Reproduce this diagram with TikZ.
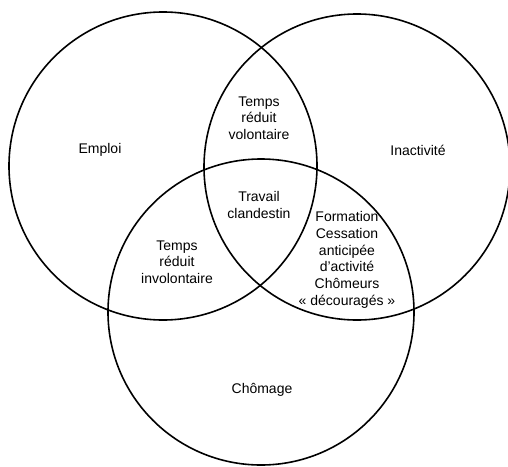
\documentclass[tikz,border=0pt]{standalone}
\usepackage{fontspec}
\setmainfont{Liberation Sans}
\begin{document}
\begin{tikzpicture}[x=1pt,y=-1pt]
\tikzset{zone/.style={align=center,font=\fontsize{14}{16.7}\selectfont,inner sep=0pt}}
\useasboundingbox (0,0) rectangle (508,466);

\draw [line width=1.6pt, black] (163,166) circle (154pt); %% Emploi
\draw [line width=1.6pt, black] (357,167) circle (153pt); %% Inactivite
\draw [line width=1.6pt, black] (261,312) circle (153pt); %% Chomage

\node[zone] (emploi) at (100,150) {Emploi};
\node[zone] (inact) at (418,150) {Inactivité};
\node[zone] (chomage) at (262,390) {Chômage};

\node[zone] (volont) at (259,118) {Temps\\réduit\\volontaire};
\node[zone] (clandes) at (259,205) {Travail\\clandestin};
\node[zone] (involont) at (177,262) {Temps\\réduit\\involontaire};
\node[zone] (horsemploi) at (347,260) {Formation\\Cessation\\anticipée\\d'activité\\Chômeurs\\«~découragés~»};
\end{tikzpicture}
\end{document}
